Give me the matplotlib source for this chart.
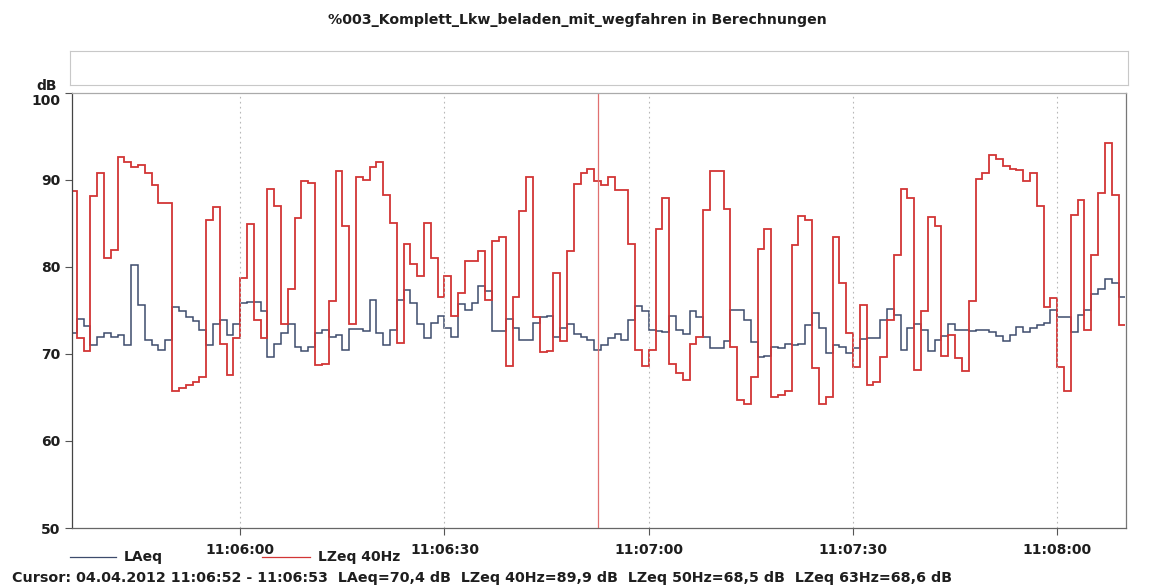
import numpy as np
import matplotlib.pyplot as plt
import matplotlib.transforms as mtransforms
from matplotlib.lines import Line2D

plt.rcParams['font.family'] = ['DejaVu Sans']

title = "%003_Komplett_Lkw_beladen_mit_wegfahren in Berechnungen"
start_time = "11:05:35"   # first 1 s interval (partly cut off at the left)

# LAeq, 1 s values in dB
laeq = [72.4, 74.0, 73.2, 71.0, 72.0, 72.4, 72.0, 72.2, 71.0, 80.2,
        75.6, 71.6, 71.0, 70.5, 71.6, 75.4, 74.9, 74.3, 73.8, 72.8,
        71.0, 73.5, 73.9, 72.2, 73.5, 75.9, 76.0, 76.0, 74.9, 69.7,
        71.2, 72.4, 73.5, 70.8, 70.3, 70.8, 72.4, 72.8, 72.0, 72.2,
        70.5, 72.9, 72.9, 72.7, 76.2, 72.4, 71.0, 72.8, 76.2, 77.3,
        75.9, 73.4, 71.8, 73.6, 74.4, 73.0, 72.0, 75.7, 75.1, 75.9,
        77.8, 77.2, 72.7, 72.7, 74.0, 73.0, 71.6, 71.6, 73.6, 74.3,
        74.4, 71.9, 73.0, 73.4, 72.3, 71.9, 71.6, 70.5, 71.0, 71.8,
        72.3, 71.6, 73.9, 75.5, 74.9, 72.8, 72.7, 72.5, 74.4, 72.8,
        72.3, 74.9, 74.3, 71.9, 70.7, 70.7, 71.5, 75.1, 75.1, 73.9,
        71.4, 69.7, 69.8, 70.8, 70.7, 71.2, 71.0, 71.2, 73.3, 74.7,
        73.0, 70.1, 71.0, 70.8, 70.1, 70.7, 71.7, 71.8, 71.8, 73.9,
        75.2, 74.5, 70.5, 73.0, 73.5, 72.8, 70.3, 71.6, 72.1, 73.5,
        72.8, 72.8, 72.6, 72.8, 72.8, 72.5, 72.1, 71.5, 72.2, 73.1,
        72.5, 73.0, 73.3, 73.6, 75.0, 74.3, 74.3, 72.5, 74.5, 75.1,
        76.9, 77.5, 78.6, 78.2, 76.5]

# LZeq 40Hz, 1 s values in dB
lzeq_40 = [88.7, 71.8, 70.3, 88.2, 90.8, 81.0, 82.0, 92.6, 92.1, 91.5,
           91.7, 90.8, 89.4, 87.3, 87.3, 65.7, 66.1, 66.4, 66.8, 67.4,
           85.4, 86.9, 71.2, 67.6, 71.8, 78.7, 84.9, 73.9, 71.8, 89.0,
           87.0, 73.5, 77.5, 85.6, 89.9, 89.7, 68.7, 68.9, 76.1, 91.0,
           84.7, 73.5, 90.3, 90.0, 91.5, 92.1, 88.3, 85.1, 71.3, 82.6,
           80.4, 79.0, 85.1, 81.0, 76.5, 79.0, 74.4, 77.0, 80.7, 80.7,
           81.8, 76.2, 83.0, 83.4, 68.6, 76.6, 86.4, 90.3, 74.3, 70.2,
           70.3, 79.3, 71.5, 81.8, 89.5, 90.8, 91.3, 89.9, 89.4, 90.3,
           88.9, 88.9, 82.6, 70.5, 68.6, 70.5, 84.4, 87.9, 68.9, 67.8,
           67.0, 71.2, 71.9, 86.6, 91.0, 91.0, 86.7, 70.8, 64.7, 64.3,
           67.4, 82.1, 84.4, 65.1, 65.3, 65.7, 82.5, 85.9, 85.4, 68.4,
           64.3, 65.1, 83.5, 78.2, 72.4, 68.5, 75.6, 66.4, 66.8, 69.7,
           73.9, 81.4, 89.0, 87.9, 68.2, 74.9, 85.8, 84.7, 69.8, 72.2,
           69.5, 68.0, 76.1, 90.1, 90.8, 92.9, 92.4, 91.6, 91.3, 91.1,
           89.9, 90.8, 87.0, 75.4, 76.4, 68.5, 65.7, 86.0, 87.7, 72.8,
           81.4, 88.5, 94.3, 88.3, 73.3]

time_ticks = ["11:06:00", "11:06:30", "11:07:00", "11:07:30", "11:08:00"]
db_ticks = [50, 60, 70, 80, 90, 100]
series_names = ["LAeq", "LZeq 40Hz"]
cursor = ("11:06:52", "11:06:53")
cursor_date = "04.04.2012"
cursor_readout = ["LAeq=70,4 dB", "LZeq 40Hz=89,9 dB", "LZeq 50Hz=68,5 dB", "LZeq 63Hz=68,6 dB"]

c_blue = '#3d4b6c'
c_red = '#d23535'
c_text = '#1e1e1e'


def to_sec(s):
    h, m, sec = s.split(':')
    return int(h) * 3600 + int(m) * 60 + float(sec)


t0 = to_sec(start_time)
edges = t0 + np.arange(len(laeq) + 1)

fig = plt.figure(figsize=(11.55, 5.88), dpi=100)
ax = fig.add_axes([72 / 1155, 1 - 528 / 588, 1054 / 1155, 435 / 588])

ax.stairs(laeq, edges, baseline=None, color=c_blue, lw=1.1)
ax.stairs(lzeq_40, edges, baseline=None, color=c_red, lw=1.3)

# cursor line
ax.axvline((to_sec(cursor[0]) + to_sec(cursor[1])) / 2, color='#e07070', lw=0.9)

ax.set_xlim(t0 + 0.3, edges[-1] + 0.1)
ax.set_ylim(50, 100)
ax.set_xticks([to_sec(t) for t in time_ticks])
ax.set_xticklabels(time_ticks)
ax.set_yticks(db_ticks)
ax.set_yticklabels([str(v) for v in db_ticks])
ax.grid(axis='x', color='#b8b8b8', ls=(0, (1.5, 3)), lw=0.8)
ax.tick_params(axis='both', length=5, width=0.8, color='#555555', labelsize=10)
ax.tick_params(axis='x', pad=6)
for lab in ax.get_xticklabels() + ax.get_yticklabels():
    lab.set_fontweight('bold')
    lab.set_color(c_text)
# the top label sits a bit below its tick in the original
top_lab = ax.get_yticklabels()[-1]
top_lab.set_transform(top_lab.get_transform() +
                      mtransforms.ScaledTranslation(0, -7 / 100, fig.dpi_scale_trans))

ax.spines['left'].set_color('#444444')
ax.spines['bottom'].set_color('#666666')
ax.spines['top'].set_color('#aaaaaa')
ax.spines['right'].set_color('#777777')
for sp in ax.spines.values():
    sp.set_linewidth(0.9)

# empty header box above the plot
box = fig.add_axes([70 / 1155, 1 - 85 / 588, 1058 / 1155, 34 / 588])
box.set_xticks([])
box.set_yticks([])
for sp in box.spines.values():
    sp.set_color('#c8c8c8')
    sp.set_linewidth(0.8)

fig.text(0.5, 1 - 20 / 588, title, ha='center', va='center', fontsize=10.2, fontweight='bold', color=c_text)
fig.text(47 / 1155, 1 - 86 / 588, "dB", ha='center', va='center', fontsize=10, fontweight='bold', color=c_text)

# legend row
ly = 1 - 557 / 588
fig.add_artist(Line2D([70 / 1155, 116 / 1155], [ly, ly], color=c_blue, lw=0.9))
fig.text(124 / 1155, ly, series_names[0], va='center', fontsize=10, fontweight='bold', color=c_text)
fig.add_artist(Line2D([262 / 1155, 310 / 1155], [ly, ly], color=c_red, lw=0.9))
fig.text(318 / 1155, ly, series_names[1], va='center', fontsize=10, fontweight='bold', color=c_text)

footer = "Cursor: " + cursor_date + " " + cursor[0] + " - " + cursor[1] + "  " + "  ".join(cursor_readout)
fig.text(12 / 1155, 1 - 578 / 588, footer, va='center', fontsize=10.3, fontweight='bold', color=c_text)

fig.savefig('out.png', dpi=100, facecolor='white')
